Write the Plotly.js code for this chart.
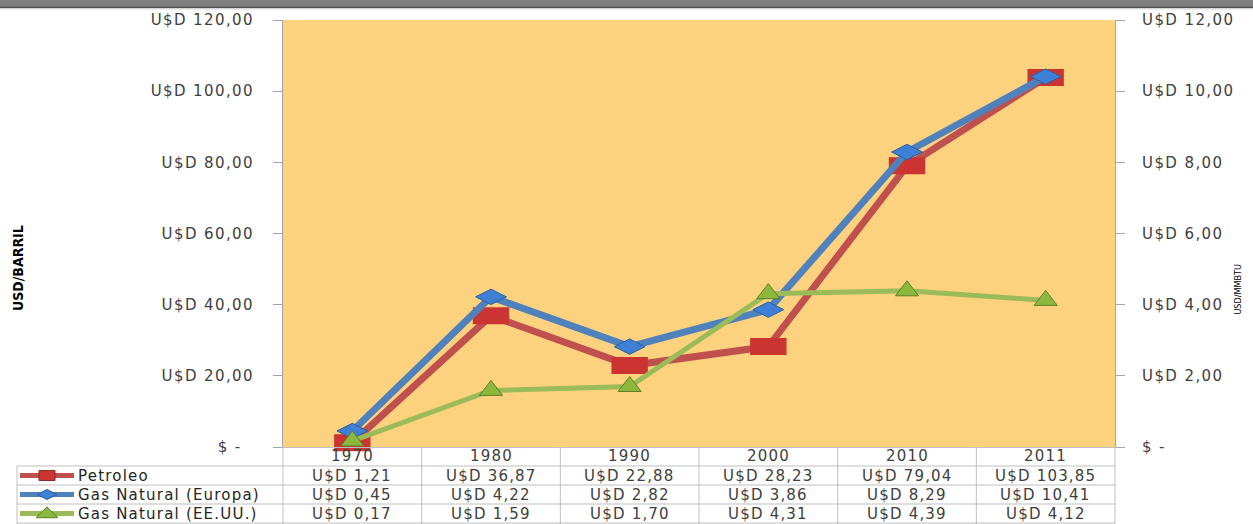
<!DOCTYPE html>
<html><head><meta charset="utf-8">
<script src="https://cdn.plot.ly/plotly-3.0.1.min.js"></script>
<style>
body{margin:0;background:#fff}
.ytick text, .y2tick text { letter-spacing: 1.4px; }
.annotation-text { letter-spacing: 1.2px; }
</style>
</head><body>
<div id="chart" style="width:1253px;height:524px"></div>
<script>
// ---- data ----
const years = ['1970', '1980', '1990', '2000', '2010', '2011'];
const petroleo = [1.21, 36.87, 22.88, 28.23, 79.04, 103.85];
const gasEuropa = [0.45, 4.22, 2.82, 3.86, 8.29, 10.41];
const gasEEUU = [0.17, 1.59, 1.70, 4.31, 4.39, 4.12];
const seriesNames = ['Petroleo', 'Gas Natural (Europa)', 'Gas Natural (EE.UU.)'];
const leftTicks = [0, 20, 40, 60, 80, 100, 120];
const rightTicks = [0, 2, 4, 6, 8, 10, 12];
const leftTitle = 'USD/BARRIL';
const rightTitle = 'USD/MMBTU';

// ---- helpers ----
const W = 1253, H = 524, L = 283, R = 1115, T = 20, B = 447;
const xp = px => (px - L) / (R - L);
const yp = py => (B - py) / (B - T);
const fmt = v => 'U$D ' + v.toFixed(2).replace('.', ',');
const zeroL = '$ -\u00a0\u00a0';
const zeroR = '$ -';
const tickTxt = (vals, zero) => vals.map(v => v === 0 ? zero : fmt(v));

const FONT = '"DejaVu Sans", Verdana, sans-serif';
const FS = 15;
const TXT = '#404040';
const GRID = '#bfbfbf';

const colors = {
  red: '#C0504D', redM: '#CC3431',
  blue: '#4F81BD', blueM: '#3D80D6', blueB: '#2C5E9E',
  green: '#9BBB59', greenM: '#8DB83F', greenB: '#5F7F25'
};

const traces = [
  {x: years, y: petroleo, name: seriesNames[0], type: 'scatter', mode: 'lines+markers', yaxis: 'y',
   line: {color: colors.red, width: 7},
   marker: {symbol: 'line-ew-open', size: 26, color: colors.redM, line: {width: 17, color: colors.redM}},
   cliponaxis: false},
  {x: years, y: gasEuropa, name: seriesNames[1], type: 'scatter', mode: 'lines+markers', yaxis: 'y2',
   line: {color: colors.blue, width: 7},
   marker: {symbol: 'diamond-wide', size: 22, color: colors.blueM, line: {width: 1, color: colors.blueB}},
   cliponaxis: false},
  {x: years, y: gasEEUU, name: seriesNames[2], type: 'scatter', mode: 'lines+markers', yaxis: 'y2',
   line: {color: colors.green, width: 5},
   marker: {symbol: 'triangle-up', size: 20, color: colors.greenM, line: {width: 1, color: colors.greenB}},
   cliponaxis: false}
];

// ---- table (below plot) ----
const rowLines = [466, 485, 504, 523];
const yearRowCenter = 456.5;
const rowCenters = [475.5, 494.5, 513.5];
const shapes = [];
shapes.push({type: 'rect', xref: 'paper', yref: 'paper', x0: xp(0), x1: xp(W), y0: yp(0), y1: yp(7), fillcolor: '#7f7f7f', line: {width: 0}, layer: 'above'});
shapes.push({type: 'line', xref: 'paper', yref: 'paper', x0: xp(0), x1: xp(W), y0: yp(7.5), y1: yp(7.5), line: {color: '#4d4d4d', width: 1.5}});
shapes.push({type: 'line', xref: 'paper', yref: 'paper', x0: xp(0), x1: xp(W), y0: yp(9), y1: yp(9), line: {color: '#d9d9d9', width: 1}});
rowLines.forEach(py => shapes.push({type: 'line', xref: 'paper', yref: 'paper', x0: xp(17), x1: 1, y0: yp(py), y1: yp(py), line: {color: GRID, width: 1}}));
shapes.push({type: 'line', xref: 'paper', yref: 'paper', x0: xp(17), x1: xp(17), y0: yp(466), y1: yp(524), line: {color: GRID, width: 1}});
for (let k = 0; k <= years.length; k++) {
  const x = k / years.length;
  shapes.push({type: 'line', xref: 'paper', yref: 'paper', x0: x, x1: x, y0: yp(447), y1: yp(524), line: {color: GRID, width: 1}});
}
const keyX0 = 20, keyX1 = 74, keyC = 47;
const keyCols = [colors.red, colors.blue, colors.green];
rowCenters.forEach((py, i) => {
  shapes.push({type: 'line', xref: 'paper', yref: 'paper', x0: xp(keyX0), x1: xp(keyX1), y0: yp(py), y1: yp(py), line: {color: keyCols[i], width: 5}});
});
shapes.push({type: 'rect', xref: 'paper', yref: 'paper', x0: xp(keyC - 8), x1: xp(keyC + 8), y0: yp(rowCenters[0] - 5), y1: yp(rowCenters[0] + 5), fillcolor: colors.redM, line: {color: '#8f2a2a', width: 1}});
(function () {
  const cx = xp(keyC), cy = yp(rowCenters[1]), dx = 10 / (R - L), dy = 5 / (B - T);
  shapes.push({type: 'path', xref: 'paper', yref: 'paper', path: `M ${cx - dx} ${cy} L ${cx} ${cy + dy} L ${cx + dx} ${cy} L ${cx} ${cy - dy} Z`, fillcolor: colors.blueM, line: {color: colors.blueB, width: 1}});
})();
(function () {
  const cx = xp(keyC), cy = yp(rowCenters[2]), dx = 11 / (R - L), dy = 6 / (B - T);
  shapes.push({type: 'path', xref: 'paper', yref: 'paper', path: `M ${cx - dx} ${cy - dy * 0.7} L ${cx + dx} ${cy - dy * 0.7} L ${cx} ${cy + dy * 1.1} Z`, fillcolor: colors.greenM, line: {color: colors.greenB, width: 1}});
})();

const annotations = [];
const seriesVals = [petroleo, gasEuropa, gasEEUU];
const colCenter = j => (j + 0.5) / years.length;
years.forEach((yr, j) => {
  annotations.push({xref: 'paper', yref: 'paper', x: colCenter(j), y: yp(yearRowCenter), xanchor: 'center', yanchor: 'middle', text: yr, showarrow: false, font: {family: FONT, size: FS, color: TXT}});
});
seriesVals.forEach((vals, i) => {
  annotations.push({xref: 'paper', yref: 'paper', x: xp(76), y: yp(rowCenters[i]), xanchor: 'left', yanchor: 'middle', text: seriesNames[i], showarrow: false, font: {family: FONT, size: FS, color: '#262626'}});
  vals.forEach((v, j) => {
    annotations.push({xref: 'paper', yref: 'paper', x: colCenter(j), y: yp(rowCenters[i]), xanchor: 'center', yanchor: 'middle', text: fmt(v), showarrow: false, font: {family: FONT, size: FS, color: TXT}});
  });
});
annotations.push({xref: 'paper', yref: 'paper', x: xp(18), y: yp(268), textangle: -90, text: leftTitle, showarrow: false, xanchor: 'center', yanchor: 'middle',
  font: {family: '"DejaVu Sans Condensed", "Liberation Sans Narrow", sans-serif', size: 14, color: '#000', weight: 'bold'}});
annotations.push({xref: 'paper', yref: 'paper', x: xp(1238), y: yp(290), textangle: -90, text: rightTitle, showarrow: false, xanchor: 'center', yanchor: 'middle',
  font: {family: '"DejaVu Sans Condensed", "Liberation Sans Narrow", sans-serif', size: 9, color: '#000'}});

const axisCommon = {
  showgrid: false, zeroline: false, fixedrange: true,
  ticks: 'outside', ticklen: 9, tickcolor: '#a6a6a6', tickwidth: 1,
  showline: true, linecolor: '#a6a6a6', linewidth: 1,
  tickfont: {family: FONT, size: FS, color: TXT}
};

const layout = {
  width: W, height: H,
  margin: {l: L, r: W - R, t: T, b: H - B, pad: 0},
  paper_bgcolor: '#ffffff', plot_bgcolor: '#FDD27F',
  showlegend: false,
  xaxis: {type: 'category', categoryorder: 'array', categoryarray: years, range: [-0.5, years.length - 0.5],
    showgrid: false, zeroline: false, fixedrange: true, ticks: '', showline: true, linecolor: GRID,
    showticklabels: false},
  yaxis: Object.assign({}, axisCommon, {range: [0, 120], tickvals: leftTicks, ticktext: tickTxt(leftTicks, zeroL), ticklabelstandoff: 16}),
  yaxis2: Object.assign({}, axisCommon, {range: [0, 12], tickvals: rightTicks, ticktext: tickTxt(rightTicks, zeroR), overlaying: 'y', side: 'right', ticklabelstandoff: 14}),
  shapes: shapes, annotations: annotations
};

Plotly.newPlot('chart', traces, layout, {displayModeBar: false, staticPlot: true}).then(() => {
  document.querySelectorAll('#chart .annotation-text').forEach(t => {
    if (t.textContent === leftTitle || t.textContent === rightTitle) t.style.letterSpacing = '0px';
  });
});
</script>
</body></html>
